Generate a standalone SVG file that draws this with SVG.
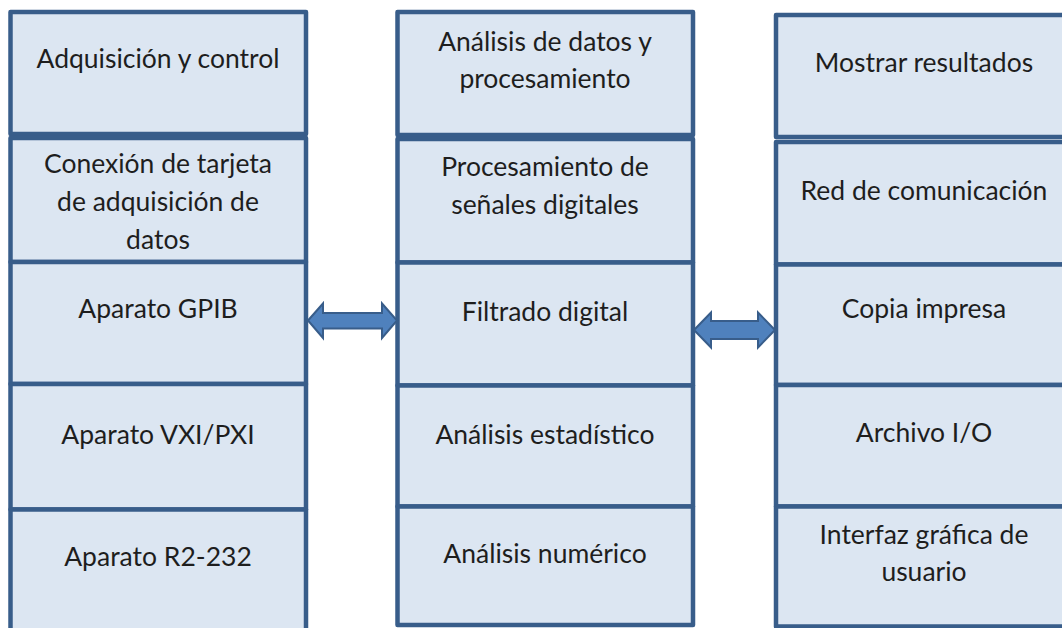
<svg xmlns="http://www.w3.org/2000/svg" width="1062" height="628" viewBox="0 0 1062 628">
<defs>
<style>
.box{fill:#dce6f2;stroke:#385d8a;stroke-width:4.5;stroke-linejoin:round}
.t{font-family:Lato,"Open Sans","Liberation Sans",sans-serif;font-size:26.5px;fill:#1e1e1e;text-anchor:middle}
.arr{fill:#4f81bd;stroke:#385d8a;stroke-width:2;stroke-linejoin:miter}
</style>
</defs>
<rect width="1062" height="628" fill="#ffffff"/>
<g id="col1">
<g id="n-adq"><rect class="box" x="10.5" y="12" width="295.5" height="122"/><text class="t" x="158" y="68">Adquisición y control</text></g>
<g id="n-conexion"><rect class="box" x="10.5" y="138" width="295.5" height="124"/><text class="t" x="158" y="173">Conexión de tarjeta</text><text class="t" x="158" y="211">de adquisición de</text><text class="t" x="158" y="249">datos</text></g>
<g id="n-gpib"><rect class="box" x="10.5" y="262" width="295.5" height="122"/><text class="t" x="158" y="318">Aparato GPIB</text></g>
<g id="n-vxi"><rect class="box" x="10.5" y="384" width="295.5" height="125.5"/><text class="t" x="158" y="444">Aparato VXI/PXI</text></g>
<g id="n-r2"><rect class="box" x="10.5" y="509.5" width="295.5" height="140"/><text class="t" x="158" y="566">Aparato R2-232</text></g>
</g>
<g id="col2">
<g id="n-analisis"><rect class="box" x="397.5" y="12" width="295.5" height="123"/><text class="t" x="545" y="51">Análisis de datos y</text><text class="t" x="545" y="88">procesamiento</text></g>
<g id="n-senales"><rect class="box" x="397.5" y="139" width="295.5" height="123.5"/><text class="t" x="545" y="176">Procesamiento de</text><text class="t" x="545" y="214">señales digitales</text></g>
<g id="n-filtrado"><rect class="box" x="397.5" y="262.5" width="295.5" height="123"/><text class="t" x="545" y="321">Filtrado digital</text></g>
<g id="n-estad"><rect class="box" x="397.5" y="385.5" width="295.5" height="121"/><text class="t" x="545" y="444">Análisis estadístico</text></g>
<g id="n-numerico"><rect class="box" x="397.5" y="506.5" width="295.5" height="118.5"/><text class="t" x="545" y="563">Análisis numérico</text></g>
</g>
<g id="col3">
<g id="n-mostrar"><rect class="box" x="776" y="15" width="300" height="122"/><text class="t" x="924" y="72">Mostrar resultados</text></g>
<g id="n-red"><rect class="box" x="776" y="142" width="300" height="122.5"/><text class="t" x="924" y="200">Red de comunicación</text></g>
<g id="n-copia"><rect class="box" x="776" y="264.5" width="300" height="120.5"/><text class="t" x="924" y="318">Copia impresa</text></g>
<g id="n-archivo"><rect class="box" x="776" y="385" width="300" height="121.5"/><text class="t" x="924" y="442">Archivo I/O</text></g>
<g id="n-interfaz"><rect class="box" x="776" y="506.5" width="300" height="120"/><text class="t" x="924" y="544">Interfaz gráfica de</text><text class="t" x="924" y="581">usuario</text></g>
</g>
<g id="connectors">
<path class="arr" d="M308,320.5 L323,303.5 L323,313 L382,313 L382,303.5 L397,320.5 L382,338 L382,328.5 L323,328.5 L323,338 Z"/>
<path class="arr" d="M694,330 L711,312.5 L711,321 L758,321 L758,312.5 L775,330 L758,347.5 L758,339 L711,339 L711,347.5 Z"/>
</g>
</svg>
